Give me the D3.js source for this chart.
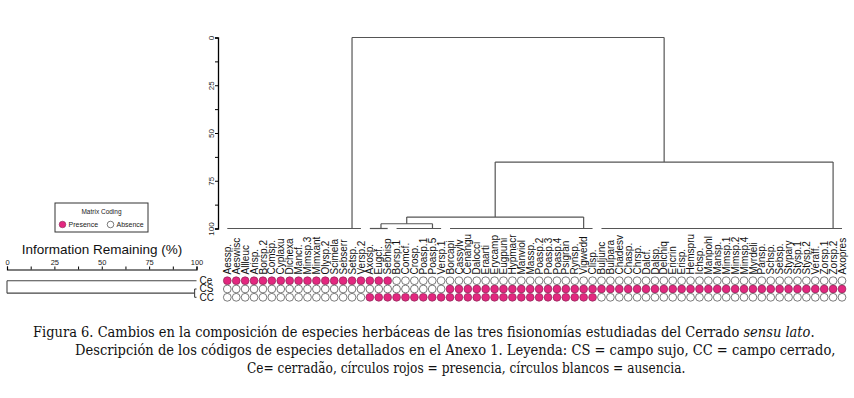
<!DOCTYPE html>
<html><head><meta charset="utf-8">
<script src="https://cdn.jsdelivr.net/npm/d3@7"></script>
<style>body{margin:0;background:#fff}</style>
</head><body>
<svg id="c" width="854" height="398"></svg>
<script>
// ---------------- data ----------------
const species = ["Aessp.","Aeswisc","Allleuc","Arisp.","Borsp.2","Comsp.","Cyplaxu","Dichexa","Mancf.","Mimsp.3",
 "Mimxant","Olysp.2","Scimela","Sebserr","Setsp.","Versp.2","Axosp.","Eugcf.","Sebhisp","Borsp.1",
 "Comcf.","Crosp.","Poasp.1","Poasp.5","Versp.1","Borcapi","Cassylv","Cenangu","Dalocci","Eraarti",
 "Erycamp","Eugpuni","Hypmacr","Manviol","Massp.","Poasp.2","Poasp.3","Poasp.4","Psigran","Rynsp.",
 "Vigwedd","Clisp.","Buljunc","Bulpara","Chadesv","Chasp.","Chrsp.","Dalcf.","Dalsp.","Delchiq",
 "Ericrin","Erisp.","Hemspru","Ichsp.","Manpohl","Mansp.","Mimsp.1","Mimsp.2","Mimsp.4","Myrdeli",
 "Pansp.","Schsp.","Sebsp.","Stypary","Stysp.1","Stysp.2","Veraff.","Zorsp.1","Zorsp.2","Axopres"];
const sites = ["Ce","CS","CC"];
const ce = [1,1,1,1,1,1,1,1,1,1, 1,1,1,1,1,1,1,1,1,0, 0,0,0,0,0,0,0,0,0,0, 0,0,0,0,0,0,0,0,0,0,
            0,0,0,0,0,0,0,0,0,0, 0,0,0,0,0,0,0,0,0,0, 0,0,0,0,0,0,0,0,0,0];
const cs = [0,0,0,0,0,0,0,0,0,0, 0,0,0,0,0,0,0,0,0,0, 0,0,0,0,0,1,1,1,1,1, 1,1,1,1,1,1,1,1,1,1,
            1,1,1,1,1,1,1,1,1,1, 1,1,1,1,1,1,1,1,1,1, 1,1,1,1,1,1,1,1,1,1];
const cc = [0,0,0,0,0,0,0,0,0,0, 0,0,0,0,0,0,1,1,1,1, 1,1,1,1,1,1,1,1,1,1, 1,1,1,1,1,1,1,1,1,1,
            1,1,0,0,0,0,0,0,0,0, 0,0,0,0,0,0,0,0,0,0, 0,0,0,0,0,0,0,0,0,0];
const matrix = {Ce: ce, CS: cs, CC: cc};
// groups of species with identical rows (joined at 100 % information remaining)
const leafGroups = [
  {id:"A", from:"Aessp.",  to:"Versp.2"},
  {id:"B", from:"Axosp.",  to:"Sebhisp"},
  {id:"C", from:"Borsp.1", to:"Versp.1"},
  {id:"D", from:"Borcapi", to:"Clisp."},
  {id:"E", from:"Buljunc", to:"Axopres"}];
// [child1, child2, information remaining %]
const joins = [["B","C",97.5],["BC","D",94],["BCD","E",65.2],["A","BCDE",0]];
const siteJoins = [["CS","CC",99],["Ce","CSCC",0]];
const axisTicks = [0,12.5,25,37.5,50,62.5,75,87.5,100];
const axisLabels = [0,25,50,75,100];

// ---------------- drawing ----------------
const svg = d3.select("#c");
const PINK = "#e3277f";
const LINE = "#555";
const sans = "'Liberation Sans', Arial, sans-serif";
const serif = "'DejaVu Serif', 'Liberation Serif', serif";

const x = d3.scalePoint().domain(species).range([227.3, 842]);
const y = d3.scaleLinear().domain([0,100]).range([37.5, 228.5]);

// main dendrogram
const g = svg.append("g").attr("stroke", LINE).attr("stroke-width", 1.2).attr("fill","none");
const nodes = {};
leafGroups.forEach(gr => {
  const i0 = species.indexOf(gr.from), i1 = species.indexOf(gr.to);
  let m = x(species[i0]);
  for (let k = i0 + 1; k <= i1; k++) m = (m + x(species[k])) / 2;
  nodes[gr.id] = {x: m, h: 100};
  g.append("line").attr("x1", x(species[i0])).attr("x2", x(species[i1]))
    .attr("y1", y(100)).attr("y2", y(100));
});
joins.forEach(([a,b,h]) => {
  const A = nodes[a], B = nodes[b];
  g.append("line").attr("x1",A.x).attr("x2",A.x).attr("y1",y(A.h)).attr("y2",y(h));
  g.append("line").attr("x1",B.x).attr("x2",B.x).attr("y1",y(B.h)).attr("y2",y(h));
  g.append("line").attr("x1",A.x).attr("x2",B.x).attr("y1",y(h)).attr("y2",y(h));
  nodes[a+b] = {x:(A.x+B.x)/2, h:h};
});

// left axis of dendrogram
const ax = svg.append("g").attr("transform","translate(218,0)")
  .call(d3.axisLeft(y).tickValues(axisTicks).tickSize(3)
    .tickFormat(d => axisLabels.includes(d) ? d : ""));
ax.select(".domain").attr("stroke","#000").attr("stroke-width",1.3);
ax.selectAll(".tick line").attr("stroke","#000").attr("stroke-width",1);
ax.selectAll(".tick text").attr("x",null).attr("dy",null)
  .attr("transform","translate(-4.5,0) rotate(-90)").attr("text-anchor","middle")
  .attr("font-family",sans).attr("font-size",8).attr("fill","#222");

// species labels
svg.append("g").selectAll("text").data(species).join("text")
  .attr("transform", d => `translate(${x(d)},274.5) rotate(-90)`)
  .attr("dy","0.36em").attr("font-family",sans).attr("font-size",10).attr("fill","#111")
  .text(d => d);

// matrix
const ry = d3.scalePoint().domain(sites).range([280.7, 297.3]);
sites.forEach(s => {
  svg.append("g").selectAll("circle").data(species).join("circle")
    .attr("cx", d => x(d)).attr("cy", ry(s)).attr("r", 3.9)
    .attr("fill", (d,i) => matrix[s][i] ? PINK : "#fff")
    .attr("stroke", (d,i) => matrix[s][i] ? "#8a2a58" : "#444").attr("stroke-width", 0.7);
});
svg.append("g").selectAll("text").data(sites).join("text")
  .attr("x", 199.5).attr("y", d => ry(d)).attr("dy","0.34em")
  .attr("font-family",sans).attr("font-size",10).attr("fill","#111").text(d => d);

// site dendrogram
const sx = d3.scaleLinear().domain([0,100]).range([7,196.5]);
const sg = svg.append("g").attr("stroke","#444").attr("stroke-width",1.1).attr("fill","none");
const snodes = {};
sites.forEach(s => { snodes[s] = {y: ry(s), v: 100}; });
siteJoins.forEach(([a,b,v]) => {
  const A = snodes[a], B = snodes[b];
  sg.append("line").attr("y1",A.y).attr("y2",A.y).attr("x1",sx(A.v)).attr("x2",sx(v));
  sg.append("line").attr("y1",B.y).attr("y2",B.y).attr("x1",sx(B.v)).attr("x2",sx(v));
  sg.append("line").attr("x1",sx(v)).attr("x2",sx(v)).attr("y1",A.y).attr("y2",B.y);
  snodes[a+b] = {y:(A.y+B.y)/2, v:v};
});
const sax = svg.append("g").attr("transform","translate(0,269.5)")
  .call(d3.axisTop(sx).tickValues(axisTicks).tickSize(3)
    .tickFormat(d => axisLabels.includes(d) ? d : ""));
sax.select(".domain").attr("stroke","#000").attr("stroke-width",1.2);
sax.selectAll(".tick line").attr("stroke","#000");
sax.selectAll(".tick text").attr("font-family",sans).attr("font-size",7.5).attr("fill","#222").attr("y",-4.5);
svg.append("text").attr("x",102).attr("y",254).attr("text-anchor","middle")
  .attr("font-family",sans).attr("font-size",13.5).attr("fill","#111")
  .text("Information Remaining (%)");

// legend
const lg = svg.append("g");
lg.append("rect").attr("x",55).attr("y",203).attr("width",93).attr("height",29)
  .attr("fill","#fff").attr("stroke","#333").attr("stroke-width",1);
lg.append("text").attr("x",101.5).attr("y",214).attr("text-anchor","middle")
  .attr("font-family",sans).attr("font-size",6.5).attr("fill","#222").text("Matrix Coding");
lg.append("circle").attr("cx",62.5).attr("cy",224.5).attr("r",3.3).attr("fill",PINK).attr("stroke","#8a2a58").attr("stroke-width",0.6);
lg.append("text").attr("x",68.5).attr("y",227).attr("font-family",sans).attr("font-size",7).attr("fill","#222").text("Presence");
lg.append("circle").attr("cx",110.5).attr("cy",224.5).attr("r",3.3).attr("fill","#fff").attr("stroke","#444").attr("stroke-width",0.7);
lg.append("text").attr("x",116.5).attr("y",227).attr("font-family",sans).attr("font-size",7).attr("fill","#222").text("Absence");

// caption
const caption = [
  {x0:33, x1:815, y:337, parts:[["Figura 6.","normal","normal"],[" Cambios en la composición de especies herbáceas de las tres fisionomías estudiadas del Cerrado ","normal","normal"],["sensu lato","normal","italic"],[".","normal","normal"]]},
  {x0:75, x1:836, y:355, parts:[["Descripción de los códigos de especies detallados en el Anexo 1. Leyenda: CS = campo sujo, CC = campo cerrado,","normal","normal"]]},
  {x0:247, x1:686, y:373, parts:[["Ce= cerradão, círculos rojos = presencia, círculos blancos = ausencia.","normal","normal"]]}
];
caption.forEach(c => {
  const t = svg.append("text").attr("font-family",serif).attr("font-size",14).attr("fill","#111");
  c.parts.forEach(p => t.append("tspan").attr("font-weight",p[1]).attr("font-style",p[2]).text(p[0]));
  const w = t.node().getComputedTextLength();
  t.attr("transform",`translate(${c.x0},${c.y}) scale(${(c.x1-c.x0)/w},1)`);
});
</script>
</body></html>
